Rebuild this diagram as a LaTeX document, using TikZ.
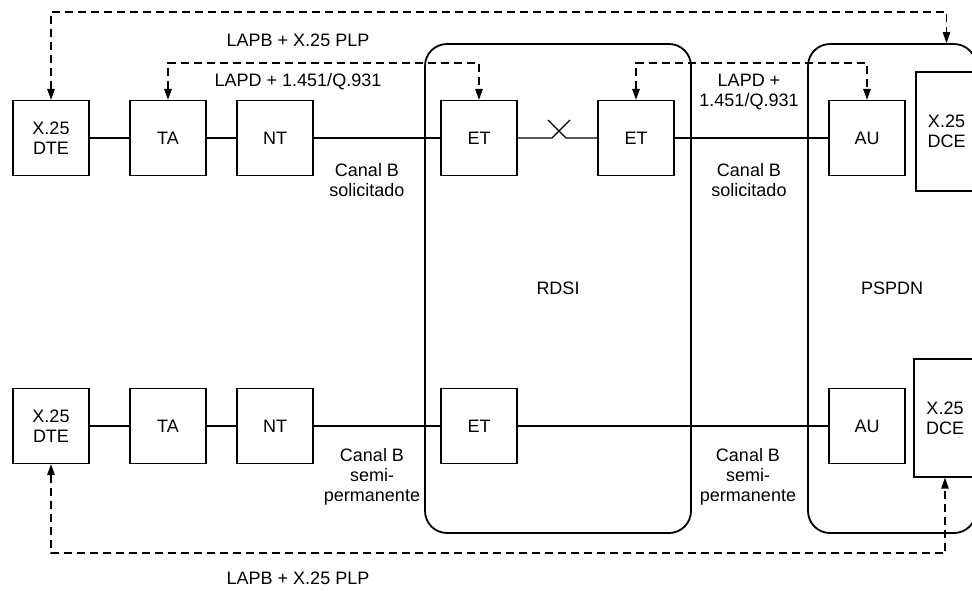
\documentclass[tikz,border=0pt]{standalone}
\usepackage{fontspec}
\setmainfont{Liberation Sans}
\usepackage{tikz}
\usetikzlibrary{arrows.meta,positioning,calc}
\newcommand{\lblfont}{\fontsize{18}{20}\selectfont}

\begin{document}
\begin{tikzpicture}[x=1pt,y=-1pt,
  box/.style={draw, line width=1.3pt, minimum width=76pt, minimum height=75pt, inner sep=0pt, align=center, font=\lblfont},
  region/.style={draw, line width=1.8pt, rounded corners=22pt, inner sep=0pt, font=\lblfont},
  wire/.style={line width=1.2pt},
  sig/.style={line width=1.4pt, dash pattern=on 8pt off 5pt, {Triangle[length=11pt,width=7.5pt]}-{Triangle[length=11pt,width=7.5pt]}},
  lbl/.style={align=center, inner sep=0pt, font=\lblfont}
]
  \useasboundingbox (0,0) rectangle (972,590);
  \clip (0,0) rectangle (972,590);
  % networks
  \node[region, minimum width=266pt, minimum height=489pt] (rdsi) at (558,288.5) {RDSI};
  \node[region, minimum width=168pt, minimum height=489pt] (pspdn) at (892,288.5) {PSPDN};
  % the two rows of equipment
  \foreach \r/\y in {A/138,B/426} {
    \node[box] (dte\r) at (51,\y) {X.25\\DTE};
    \node[box] (ta\r) at (168,\y) {TA};
    \node[box] (nt\r) at (275,\y) {NT};
    \node[box] (et\r) at (479,\y) {ET};
    \node[box] (au\r) at (867,\y) {AU};
    \draw[wire] (dte\r) -- (ta\r) -- (nt\r) -- (et\r);
  }
  \node[box] (etAR) at (636,138) {ET};
  \node[box, minimum width=61pt, minimum height=119pt] (dceA) at (946.5,131.5) {X.25\\DCE};
  \node[box, minimum width=62pt, minimum height=118pt] (dceB) at (945,418) {X.25\\DCE};
  % switched B channel with the break
  \coordinate (brkA) at (552,138);
  \coordinate (brkB) at (570,120);
  \coordinate (brkC) at (548,120);
  \coordinate (brkD) at (566,138);
  \draw[wire] (etA) -- (brkA) -- (brkB);
  \draw[wire] (brkC) -- (brkD) -- (etAR);
  \draw[wire] (etAR) -- (auA);
  \draw[wire] (etB) -- (auB);
  % signalling
  \draw[sig] (dteA.north) -- ++(0,-88) -| (dceA.north |- pspdn.north);
  \draw[sig] (taA.north) -- ++(0,-37) -| (etA.north);
  \draw[sig] (etAR.north) -- ++(0,-37) -| (auA.north);
  \draw[sig] (dteB.south) -- ++(0,89) -| (dceB.south);
  % labels
  \node[lbl] (lapbTop) at (298,40) {LAPB + X.25 PLP};
  \node[lbl] (lapdL) at (298,82) {LAPD + 1.451/Q.931};
  \node[lbl] (lapdR) at (749,92) {LAPD +\\1.451/Q.931};
  \node[lbl] (canalA) at (367,180) {Canal B\\solicitado};
  \node[lbl] (canalB) at (749,180) {Canal B\\solicitado};
  \node[lbl] (canalC) at (372,477) {Canal B\\semi-\\permanente};
  \node[lbl] (canalD) at (748,477) {Canal B\\semi-\\permanente};
  \node[lbl] (lapbBot) at (298,578) {LAPB + X.25 PLP};
\end{tikzpicture}
\end{document}
